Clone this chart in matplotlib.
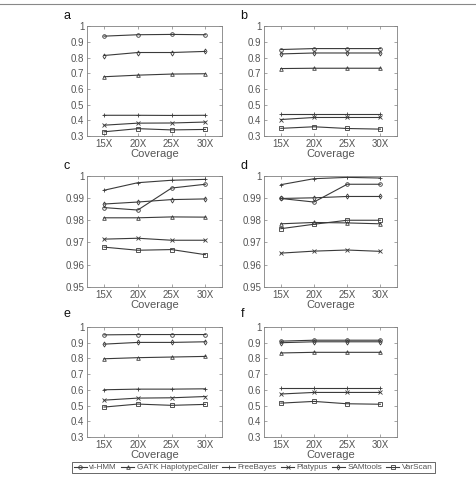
import matplotlib
matplotlib.use("Agg")
import matplotlib.pyplot as plt
from matplotlib.lines import Line2D

coverage = [15, 20, 25, 30]
cov_labels = ["15X", "20X", "25X", "30X"]
tools = ["vi-HMM", "GATK HaplotypeCaller", "FreeBayes", "Platypus", "SAMtools", "VarScan"]
markers = ["o", "^", "+", "x", "d", "s"]

# values, one dict per panel
panel_a = {
    "vi-HMM": [0.936, 0.945, 0.947, 0.945],
    "GATK HaplotypeCaller": [0.678, 0.688, 0.695, 0.697],
    "FreeBayes": [0.433, 0.433, 0.432, 0.433],
    "Platypus": [0.370, 0.383, 0.384, 0.390],
    "SAMtools": [0.813, 0.832, 0.832, 0.839],
    "VarScan": [0.328, 0.348, 0.340, 0.343],
}
panel_b = {
    "vi-HMM": [0.851, 0.857, 0.857, 0.857],
    "GATK HaplotypeCaller": [0.730, 0.732, 0.732, 0.732],
    "FreeBayes": [0.443, 0.443, 0.443, 0.443],
    "Platypus": [0.406, 0.419, 0.419, 0.419],
    "SAMtools": [0.823, 0.829, 0.829, 0.829],
    "VarScan": [0.350, 0.360, 0.349, 0.345],
}
panel_c = {
    "vi-HMM": [0.9857, 0.9846, 0.9945, 0.9962],
    "GATK HaplotypeCaller": [0.9811, 0.9811, 0.9815, 0.9814],
    "FreeBayes": [0.9935, 0.9969, 0.9980, 0.9984],
    "Platypus": [0.9715, 0.9719, 0.9710, 0.9710],
    "SAMtools": [0.9873, 0.9882, 0.9893, 0.9896],
    "VarScan": [0.9679, 0.9665, 0.9668, 0.9645],
}
panel_d = {
    "vi-HMM": [0.9898, 0.9882, 0.9962, 0.9962],
    "GATK HaplotypeCaller": [0.9784, 0.9790, 0.9788, 0.9784],
    "FreeBayes": [0.9960, 0.9987, 0.9993, 0.9990],
    "Platypus": [0.9652, 0.9661, 0.9666, 0.9660],
    "SAMtools": [0.9898, 0.9901, 0.9907, 0.9907],
    "VarScan": [0.9762, 0.9782, 0.9800, 0.9800],
}
panel_e = {
    "vi-HMM": [0.950, 0.952, 0.952, 0.952],
    "GATK HaplotypeCaller": [0.798, 0.805, 0.809, 0.813],
    "FreeBayes": [0.601, 0.605, 0.605, 0.607],
    "Platypus": [0.535, 0.548, 0.550, 0.558],
    "SAMtools": [0.891, 0.902, 0.902, 0.906],
    "VarScan": [0.491, 0.510, 0.502, 0.508],
}
panel_f = {
    "vi-HMM": [0.910, 0.916, 0.916, 0.916],
    "GATK HaplotypeCaller": [0.835, 0.839, 0.839, 0.839],
    "FreeBayes": [0.612, 0.612, 0.612, 0.612],
    "Platypus": [0.574, 0.584, 0.584, 0.584],
    "SAMtools": [0.900, 0.906, 0.906, 0.906],
    "VarScan": [0.516, 0.527, 0.512, 0.509],
}

wide_ticks = [0.3, 0.4, 0.5, 0.6, 0.7, 0.8, 0.9, 1.0]
wide_labels = ["0.3", "0.4", "0.5", "0.6", "0.7", "0.8", "0.9", "1"]
narrow_ticks = [0.95, 0.96, 0.97, 0.98, 0.99, 1.0]
narrow_labels = ["0.95", "0.96", "0.97", "0.98", "0.99", "1"]

line_col = "#3a3a3a"
box_col = "#808080"
text_col = "#555555"

plt.rcParams["font.family"] = ["Liberation Sans", "DejaVu Sans"]

fig = plt.figure(figsize=(4.76, 4.83), dpi=100)

# left, bottom, width, height in figure fraction
cols = [(0.183, 0.284), (0.555, 0.279)]
rows = [(0.718, 0.228), (0.406, 0.230), (0.095, 0.228)]
letter_x = [0.133, 0.505]
letter_y = [0.960, 0.650, 0.343]

panels = [
    ("a", panel_a, wide_ticks, wide_labels, (0.3, 1.0)),
    ("b", panel_b, wide_ticks, wide_labels, (0.3, 1.0)),
    ("c", panel_c, narrow_ticks, narrow_labels, (0.95, 1.0)),
    ("d", panel_d, narrow_ticks, narrow_labels, (0.95, 1.0)),
    ("e", panel_e, wide_ticks, wide_labels, (0.3, 1.0)),
    ("f", panel_f, wide_ticks, wide_labels, (0.3, 1.0)),
]

for i, (letter, data, yt, yl, ylim) in enumerate(panels):
    r, c = divmod(i, 2)
    ax = fig.add_axes([cols[c][0], rows[r][0], cols[c][1], rows[r][1]])
    for tool, m in zip(tools, markers):
        ax.plot(coverage, data[tool], color=line_col, lw=0.8, marker=m,
                markersize=2.6, markerfacecolor="none", markeredgewidth=0.6)
    ax.set_xlim(12.5, 32.5)
    ax.set_ylim(*ylim)
    ax.set_xticks(coverage)
    ax.set_xticklabels(cov_labels)
    ax.set_yticks(yt)
    ax.set_yticklabels(yl)
    ax.tick_params(direction="in", length=2, width=0.5, labelsize=7,
                   colors=box_col, labelcolor=text_col, top=True, right=True, pad=2)
    for s in ax.spines.values():
        s.set_color(box_col)
        s.set_linewidth(0.6)
    ax.set_xlabel("Coverage", fontsize=8, color=text_col, labelpad=0)
    fig.text(letter_x[c], letter_y[r], letter, fontsize=9, color="#111111")

# thin rule along the top of the figure
fig.add_artist(Line2D([0, 1], [1 - 4 / 483, 1 - 4 / 483], color="#888888", lw=0.8))

handles = [Line2D([], [], color=line_col, lw=0.8, marker=m, markersize=2.6,
                  markerfacecolor="none", markeredgewidth=0.6) for m in markers]
leg = fig.legend(handles, tools, loc="center", bbox_to_anchor=(0.532, 0.032), ncol=6,
                 fontsize=5.9, frameon=True, fancybox=False, handlelength=1.6,
                 handletextpad=0.3, columnspacing=0.5, borderpad=0.25,
                 borderaxespad=0)
leg.get_frame().set_edgecolor("#222222")
leg.get_frame().set_linewidth(0.6)
for t in leg.get_texts():
    t.set_color(text_col)

fig.savefig("out.png", dpi=100)
